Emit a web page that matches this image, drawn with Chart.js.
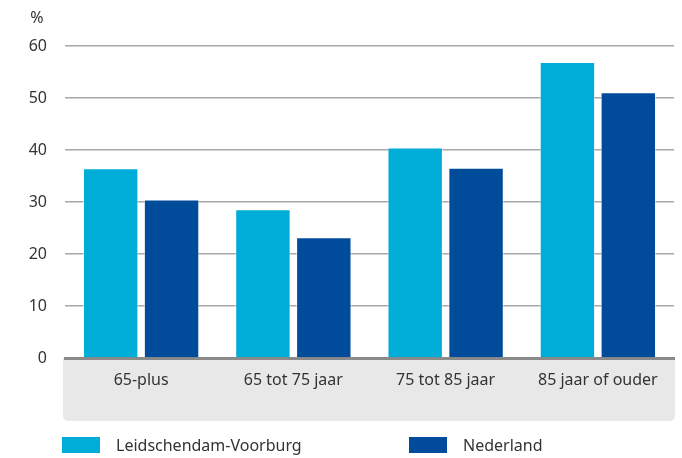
<!DOCTYPE html>
<html><head><meta charset="utf-8">
<script src="https://cdn.jsdelivr.net/npm/chart.js@4"></script>
<style>
html,body{margin:0;padding:0;background:#fff;}
#wrap{position:relative;width:682px;height:458px;}
canvas{position:absolute;left:0;top:0;}
.lg{position:absolute;top:437px;font:16px "Noto Sans",sans-serif;color:#333;}
.sw{position:absolute;top:0;width:38px;height:16px;}
.lt{position:absolute;top:-3px;white-space:nowrap;}
</style></head>
<body><div id="wrap"><canvas id="c" width="682" height="458"></canvas>
<div class="lg" id="lg"></div></div>
<script>
const categories = ["65-plus", "65 tot 75 jaar", "75 tot 85 jaar", "85 jaar of ouder"];
const seriesNames = ["Leidschendam-Voorburg", "Nederland"];
const leidschendam = [36.5, 28.6, 40.5, 56.9];
const nederland = [30.5, 23.2, 36.6, 51.1];
const yTicks = [0, 10, 20, 30, 40, 50, 60];
const colors = ["#00acd8", "#004c9b"];
const FONT = '"Noto Sans", sans-serif';

// HTML legend
const lg = document.getElementById('lg');
const lgX = [62, 409];
seriesNames.forEach((n, i) => {
  const sw = document.createElement('div'); sw.className = 'sw';
  sw.style.left = lgX[i] + 'px'; sw.style.background = colors[i];
  const t = document.createElement('div'); t.className = 'lt';
  t.style.left = (lgX[i] + 54) + 'px'; t.textContent = n;
  lg.appendChild(sw); lg.appendChild(t);
});

const bgBox = {
  id: 'bgBox',
  beforeDraw(chart) {
    const {ctx, chartArea} = chart;
    const xs = chart.scales.x;
    ctx.save();
    ctx.fillStyle = '#e8e8e8';
    const x0 = chartArea.left - 2, x1 = chartArea.right + 1, y0 = chartArea.bottom, y1 = xs.bottom;
    const r = 6;
    ctx.beginPath();
    ctx.moveTo(x0, y0); ctx.lineTo(x1, y0); ctx.lineTo(x1, y1 - r);
    ctx.quadraticCurveTo(x1, y1, x1 - r, y1); ctx.lineTo(x0 + r, y1);
    ctx.quadraticCurveTo(x0, y1, x0, y1 - r); ctx.closePath(); ctx.fill();
    ctx.fillStyle = '#333';
    ctx.font = '16px ' + FONT;
    ctx.textAlign = 'center'; ctx.textBaseline = 'middle';
    ctx.fillText('%', 37, 18);
    ctx.restore();
  }
};

new Chart(document.getElementById('c'), {
  type: 'bar',
  data: {
    labels: categories,
    datasets: [
      {label: seriesNames[0], data: leidschendam, backgroundColor: colors[0], borderColor: 'rgba(255,255,255,0.6)', borderWidth: 1},
      {label: seriesNames[1], data: nederland, backgroundColor: colors[1], borderColor: 'rgba(255,255,255,0.6)', borderWidth: 1}
    ]
  },
  plugins: [bgBox],
  options: {
    responsive: false, animation: false,
    layout: {padding: {top: 46, right: 8, bottom: 37, left: 0}},
    plugins: {legend: {display: false}, tooltip: {enabled: false}},
    datasets: {bar: {categoryPercentage: 0.8, barPercentage: 0.91}},
    scales: {
      x: {
        grid: {display: false, drawTicks: false},
        border: {display: true, color: '#8a8a8a', width: 3},
        ticks: {color: '#333', font: {family: FONT, size: 16}, padding: 13},
        afterFit(s) { s.height = 63; }
      },
      y: {
        min: 0, max: 60,
        afterBuildTicks(s) { s.ticks = yTicks.map(v => ({value: v})); },
        grid: {color: '#a8a8a8', lineWidth: 1.5, drawTicks: false},
        border: {display: false},
        ticks: {color: '#333', font: {family: FONT, size: 16}, padding: 18},
        afterFit(s) { s.width = 65; }
      }
    }
  }
});
</script></body></html>
